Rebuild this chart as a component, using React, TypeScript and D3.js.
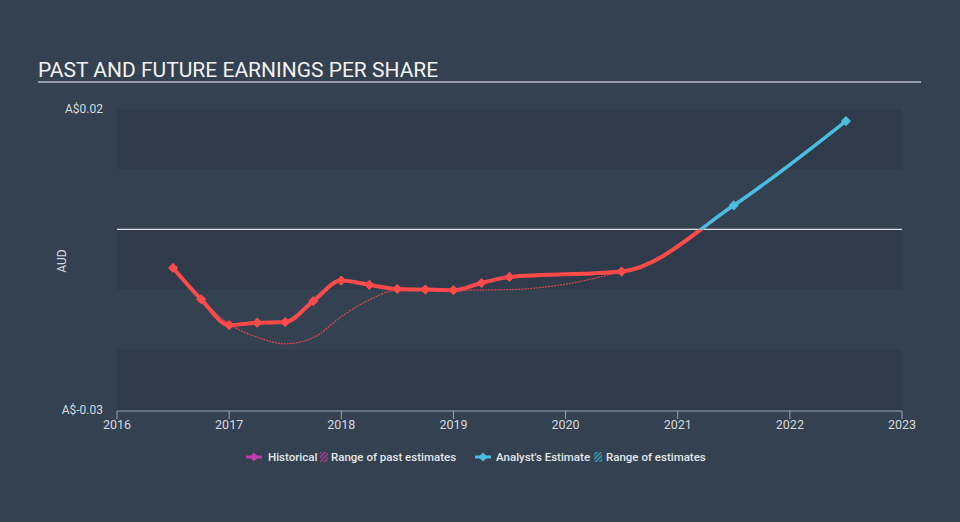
import React from "react";
import * as d3 from "d3";

// EPS history (fractional year, AUD)
const histDates = [2016.5, 2016.75, 2017, 2017.25, 2017.5, 2017.75, 2018, 2018.25, 2018.5, 2018.75, 2019, 2019.25, 2019.5, 2020.5];
const histValues = [-0.0064, -0.0116, -0.0159, -0.0155, -0.0154, -0.0119, -0.0085, -0.0092, -0.0099, -0.01, -0.0101, -0.0089, -0.0079, -0.007];

// past analyst estimates (thin dashed line)
const pastDates = [2016.75, 2017, 2017.25, 2017.5, 2017.75, 2018, 2018.25, 2018.5, 2019, 2019.5, 2020, 2020.5];
const pastValues = [-0.0116, -0.0157, -0.0179, -0.019, -0.018, -0.0145, -0.0117, -0.0101, -0.0101, -0.01, -0.0091, -0.007];

// analyst estimates
const estDates = [2020.5, 2021.5, 2022.5];
const estValues = [-0.007, 0.004, 0.018];

const xTicks = [2016, 2017, 2018, 2019, 2020, 2021, 2022, 2023];
const bandTicks = [0.02, 0.01, 0, -0.01, -0.02, -0.03];
const yLabels = ["A$0.02", "A$-0.03"];

const W = 960;
const H = 522;
const RED = "#ff4a4a";
const BLUE = "#4bbde3";
const FONT = "Roboto, 'Open Sans', sans-serif";

export default function App() {
  const x = d3.scaleLinear().domain([2016, 2023]).range([117, 902]);
  const y = d3.scaleLinear().domain([-0.03, 0.02]).range([410, 109]);

  const line = d3
    .line<[number, number]>()
    .x((d) => x(d[0]))
    .y((d) => y(d[1]))
    .curve(d3.curveMonotoneX);

  const hist = histDates.map((d, i) => [d, histValues[i]] as [number, number]);
  const past = pastDates.map((d, i) => [d, pastValues[i]] as [number, number]);
  const est = estDates.map((d, i) => [d, estValues[i]] as [number, number]);
  // history runs straight into the estimates as one curve
  const combined = hist.concat(est.slice(1));

  const diamond = d3.symbol(d3.symbolSquare, 52)();
  const zeroY = y(0);

  return (
    <div style={{ position: "fixed", left: 0, top: 0 }}>
      <svg width={W} height={H} style={{ display: "block" }} fontFamily={FONT}>
        <defs>
          <clipPath id="below">
            <rect x={0} y={zeroY} width={W} height={H - zeroY} />
          </clipPath>
          <clipPath id="above">
            <rect x={0} y={0} width={W} height={zeroY} />
          </clipPath>
          <pattern id="hatchP" width="3" height="3" patternUnits="userSpaceOnUse" patternTransform="rotate(45)">
            <rect width="1.4" height="3" fill="#b0399f" />
          </pattern>
          <pattern id="hatchB" width="3" height="3" patternUnits="userSpaceOnUse" patternTransform="rotate(45)">
            <rect width="1.4" height="3" fill="#3d9fc4" />
          </pattern>
        </defs>
        <rect width={W} height={H} fill="#344150" />

        {/* title */}
        <text x={38} y={77} fontSize={21} fill="#f2f2f2">
          PAST AND FUTURE EARNINGS PER SHARE
        </text>
        <line x1={38} x2={921} y1={82} y2={82} stroke="#b8bec7" strokeWidth={1.5} />

        {/* bands */}
        {bandTicks.slice(0, -1).map((v, i) => (
          <rect
            key={i}
            x={x(2016)}
            y={y(v)}
            width={x(2023) - x(2016)}
            height={y(bandTicks[i + 1]) - y(v)}
            fill={i % 2 === 0 ? "#2f3b4a" : "#344150"}
          />
        ))}
        <line x1={x(2016)} x2={x(2023)} y1={zeroY} y2={zeroY} stroke="#e0e3e8" strokeWidth={1.4} />

        {/* y labels */}
        {[0.02, -0.03].map((v, i) => (
          <text key={v} x={103} y={y(v)} dy="0.35em" textAnchor="end" fontSize={12} fill="#d6d9de">
            {yLabels[i]}
          </text>
        ))}
        <text transform={`translate(66,261) rotate(-90)`} textAnchor="middle" fontSize={12} fill="#d6d9de">
          AUD
        </text>

        {/* x axis */}
        <line x1={x(2016)} x2={x(2023)} y1={411} y2={411} stroke="#9aa6b5" />
        {xTicks.map((t) => (
          <g key={t} transform={`translate(${x(t)},0)`}>
            <line y1={411} y2={419} stroke="#9aa6b5" />
            <text y={429} textAnchor="middle" fontSize={12.5} fill="#d6d9de">
              {t}
            </text>
          </g>
        ))}

        {/* past estimates */}
        <path d={line(past) || ""} fill="none" stroke={RED} strokeOpacity={0.85} strokeWidth={1.2} strokeDasharray="2,1" />

        {/* main line: red below zero, blue above */}
        <path d={line(combined) || ""} fill="none" stroke={RED} strokeWidth={4} clipPath="url(#below)" />
        <path d={line(combined) || ""} fill="none" stroke={BLUE} strokeWidth={3.5} clipPath="url(#above)" />
        {est.slice(1).map((d, i) => (
          <path
            key={i}
            d={diamond || ""}
            transform={`translate(${x(d[0])},${y(d[1])}) rotate(45)`}
            fill={d[1] < 0 ? RED : BLUE}
          />
        ))}
        {hist.map((d, i) => (
          <path key={i} d={diamond || ""} transform={`translate(${x(d[0])},${y(d[1])}) rotate(45)`} fill={RED} />
        ))}

        {/* legend */}
        <g fontSize={11.5} fontWeight={500} fill="#e4e7eb">
          <line x1={246} x2={262} y1={457} y2={457} stroke="#c23bb0" strokeWidth={3} />
          <path d={d3.symbol(d3.symbolSquare, 40)() || ""} transform="translate(254,457) rotate(45)" fill="#c23bb0" />
          <text x={268} y={461}>Historical</text>
          <rect x={320} y={452} width={8} height={10} fill="url(#hatchP)" />
          <text x={331} y={461}>Range of past estimates</text>
          <line x1={475} x2={491} y1={457} y2={457} stroke={BLUE} strokeWidth={3} />
          <path d={d3.symbol(d3.symbolSquare, 40)() || ""} transform="translate(483,457) rotate(45)" fill={BLUE} />
          <text x={496} y={461}>Analyst's Estimate</text>
          <rect x={594} y={452} width={8} height={10} fill="url(#hatchB)" />
          <text x={606} y={461}>Range of estimates</text>
        </g>
      </svg>
    </div>
  );
}
